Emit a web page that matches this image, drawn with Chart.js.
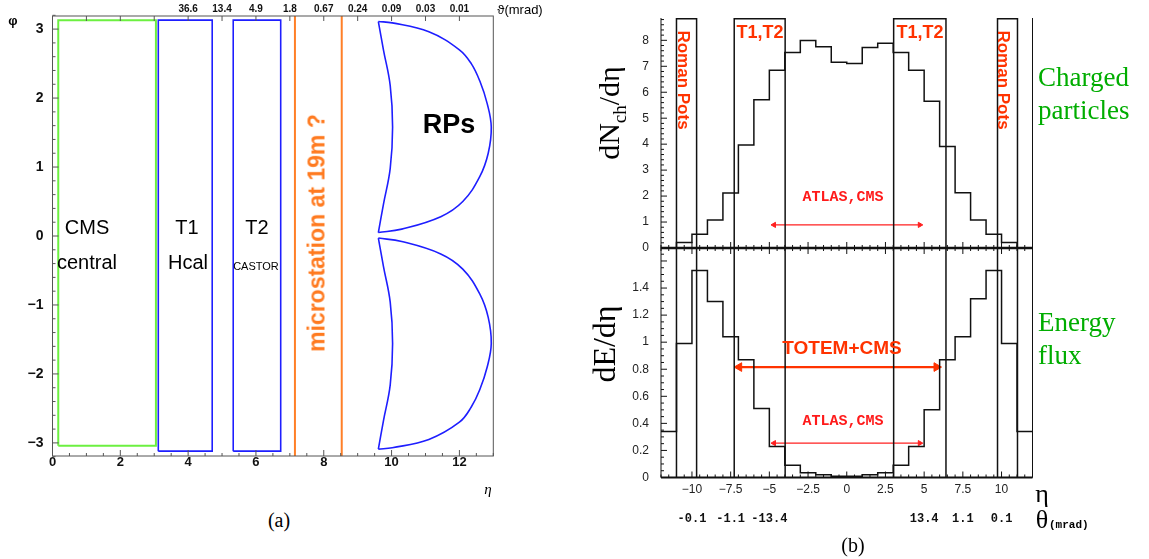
<!DOCTYPE html>
<html>
<head>
<meta charset="utf-8">
<script src="https://cdn.jsdelivr.net/npm/chart.js@4.4.1/dist/chart.umd.min.js"></script>
<style>
  html, body { margin: 0; padding: 0; background: #fff; }
  #fig { position: relative; width: 1149px; height: 559px; overflow: hidden; background: #fff; }
  #fig canvas { position: absolute; top: 0; }
  .t { position: absolute; white-space: nowrap; line-height: 1; transform: translate(-50%, -50%); }
  .l { transform: translate(0, -50%); }
  .up { transform: translate(-50%, -50%) rotate(-90deg); }
  .down { transform: translate(-50%, -50%) rotate(90deg); }
  .sans { font-family: "Liberation Sans", Arial, sans-serif; }
  .serif { font-family: "Liberation Serif", "Times New Roman", serif; }
  .mono { font-family: "Liberation Mono", "Courier New", monospace; font-weight: bold; }
  .red { color: #ff3300; font-weight: bold; }
  .green { color: #00ad00; }
</style>
</head>
<body>
<div id="fig">
  <canvas id="layout" width="560" height="500" style="left:0"></canvas>
  <canvas id="flow" width="589" height="559" style="left:560px"></canvas>

  <!-- (a) detector layout labels -->
  <div class="t sans" style="left:13px;top:20px;font-size:13px;font-weight:bold">φ</div>
  <div class="t sans" style="left:87px;top:227px;font-size:20px">CMS</div>
  <div class="t sans" style="left:87px;top:262px;font-size:20px">central</div>
  <div class="t sans" style="left:187px;top:227px;font-size:20px">T1</div>
  <div class="t sans" style="left:188px;top:262px;font-size:20px">Hcal</div>
  <div class="t sans" style="left:257px;top:227px;font-size:20px">T2</div>
  <div class="t sans" style="left:256px;top:266px;font-size:11px">CASTOR</div>
  <div class="t sans up" style="left:317px;top:233px;font-size:23px;font-weight:bold;color:#ff7a1f">microstation at 19m ?</div>
  <div class="t sans" style="left:449px;top:124px;font-size:27px;font-weight:bold">RPs</div>
  <div class="t serif" style="left:488px;top:489px;font-size:15px;font-style:italic">η</div>
  <div class="t sans" style="left:520px;top:9px;font-size:13px">ϑ(mrad)</div>
  <div class="t serif" style="left:279px;top:520px;font-size:20px">(a)</div>

  <!-- (b) pseudorapidity distributions labels -->
  <div class="t serif up" style="left:609px;top:113px;font-size:30px">dN<span style="font-size:19px;position:relative;top:7px">ch</span>/dη</div>
  <div class="t serif up" style="left:604px;top:344px;font-size:32px">dE/dη</div>
  <div class="t sans red down" style="left:683px;top:80px;font-size:17px">Roman Pots</div>
  <div class="t sans red down" style="left:1003px;top:80px;font-size:17px">Roman Pots</div>
  <div class="t sans red" style="left:760px;top:32px;font-size:18px">T1,T2</div>
  <div class="t sans red" style="left:920px;top:32px;font-size:18px">T1,T2</div>
  <div class="t mono" style="left:843px;top:197px;font-size:15px;color:#ff1a1a">ATLAS,CMS</div>
  <div class="t sans red" style="left:842px;top:347px;font-size:19px">TOTEM+CMS</div>
  <div class="t mono" style="left:843px;top:421px;font-size:15px;color:#ff1a1a">ATLAS,CMS</div>
  <div class="t serif green l" style="left:1038px;top:77px;font-size:27px">Charged</div>
  <div class="t serif green l" style="left:1038px;top:110px;font-size:27px">particles</div>
  <div class="t serif green l" style="left:1038px;top:322px;font-size:27px">Energy</div>
  <div class="t serif green l" style="left:1038px;top:355px;font-size:27px">flux</div>
  <div class="t serif" style="left:1042px;top:494px;font-size:26px">η</div>
  <div class="t serif" style="left:1042px;top:520px;font-size:26px">θ</div>
  <div class="t mono l" style="left:1049px;top:525px;font-size:11px">(mrad)</div>
  <div class="t serif" style="left:853px;top:545px;font-size:20px">(b)</div>
</div>

<script>
// ---- (a) detector coverage in the η-φ plane ----
const layoutEtaTicks = [0, 2, 4, 6, 8, 10, 12];
const layoutPhiTicks = [-3, -2, -1, 0, 1, 2, 3];
const thetaTopEta = [4, 5, 6, 7, 8, 9, 10, 11, 12];
const thetaTopText = ["36.6", "13.4", "4.9", "1.8", "0.67", "0.24", "0.09", "0.03", "0.01"];

const cmsCentral = [[0.17, -3.04], [0.17, 3.13], [3.05, 3.13], [3.05, -3.04]];
const t1Box = [[3.12, -3.12], [3.12, 3.13], [4.71, 3.13], [4.71, -3.12]];
const t2Box = [[5.33, -3.12], [5.33, 3.13], [6.73, 3.13], [6.73, -3.12]];
const microstationEta = [7.15, 8.53];

const rpUpperOuter = [[9.61, 3.11], [10.02, 3.09], [11.1, 2.96], [12.0, 2.7], [12.35, 2.5], [12.6, 2.25], [12.82, 1.92], [12.94, 1.58],
  [12.85, 1.2], [12.6, 0.86], [12.1, 0.5], [11.45, 0.28], [10.3, 0.1], [9.61, 0.05]];
const rpUpperInner = [[9.61, 0.05], [9.76, 0.46], [9.96, 0.98], [10.03, 1.58], [9.96, 2.18], [9.76, 2.7], [9.61, 3.11]];
const rpLowerOuter = [[9.61, -0.03], [10.3, -0.08], [11.45, -0.26], [12.1, -0.48], [12.6, -0.84], [12.85, -1.18], [12.94, -1.56],
  [12.82, -1.9], [12.6, -2.23], [12.35, -2.48], [12.0, -2.7], [11.1, -2.95], [10.02, -3.07], [9.61, -3.09]];
const rpLowerInner = [[9.61, -3.09], [9.76, -2.68], [9.96, -2.16], [10.03, -1.56], [9.96, -0.96], [9.76, -0.44], [9.61, -0.03]];

// ---- (b) dNch/dη and dE/dη ----
const etaEdges = [-12, -11, -10, -9, -8, -7, -6, -5, -4, -3, -2, -1, 0, 1, 2, 3, 4, 5, 6, 7, 8, 9, 10, 11, 12];
const dNchDeta = [0, 0.21, 0.53, 1.08, 2.12, 3.97, 5.71, 6.85, 7.53, 7.99, 7.75, 7.16, 7.11, 7.72, 7.89, 7.53, 6.85, 5.65, 3.91, 2.13, 1.08, 0.53, 0.21, 0];
const dEdeta = [0.34, 0.99, 1.53, 1.3, 1.04, 0.87, 0.51, 0.23, 0.09, 0.035, 0.02, 0.01, 0.01, 0.02, 0.035, 0.09, 0.23, 0.5, 0.87, 1.04, 1.32, 1.53, 0.99, 0.34];

// acceptance edges: Roman Pots, T1/T2, T1/T2, Roman Pots
const acceptanceEdges = [[-11.0, -9.7], [-7.27, -3.98], [3.03, 6.41], [9.74, 11.03]];
const boxTop = 8.83;

// arrows as [from η, to η, height]
const atlasArrowTop = [-4.7, 4.72, 0.89];
const totemArrow = [-6.95, 5.8, 0.816];
const atlasArrowBottom = [-4.7, 4.72, 0.254];

const etaTicks = [-10, -7.5, -5, -2.5, 0, 2.5, 5, 7.5, 10];
const thetaEta = [-10, -7.5, -5, 5, 7.5, 10];
const thetaText = ["-0.1", "-1.1", "-13.4", "13.4", "1.1", "0.1"];
const dNchTicks = [0, 1, 2, 3, 4, 5, 6, 7, 8];
const dETicks = [0, 0.2, 0.4, 0.6, 0.8, 1, 1.2, 1.4];

const pts = arr => arr.map(([x, y]) => ({ x, y }));
const closed = arr => pts(arr.concat([arr[0]]));
const noGrid = { display: false, drawTicks: false };
const noBorder = { display: false };
const fixTicks = values => scale => { scale.ticks = values.map(value => ({ value })); };
const minus = v => (v < 0 ? "\u2212" + Math.abs(v) : String(v));

function line(data, color, width, extra) {
  return Object.assign({ data, showLine: true, borderColor: color, borderWidth: width, pointRadius: 0, fill: false }, extra || {});
}

// inward tick marks on a horizontal or vertical axis line
function ticksAlong(ctx, scale, from, to, step, majorEvery, at, dir, majorLen, minorLen, horizontal) {
  const n = Math.round((to - from) / step);
  for (let i = 0; i <= n; i++) {
    const v = from + i * step;
    const p = scale.getPixelForValue(v);
    const major = Math.abs(v / majorEvery - Math.round(v / majorEvery)) < 1e-6;
    const len = major ? majorLen : minorLen;
    if (horizontal) { ctx.moveTo(p, at); ctx.lineTo(p, at + dir * len); }
    else { ctx.moveTo(at, p); ctx.lineTo(at + dir * len, p); }
  }
}

const layoutFrame = {
  id: "layoutFrame",
  afterDatasetsDraw(chart) {
    const { ctx, chartArea: a, scales: { x, y } } = chart;
    ctx.save();
    ctx.strokeStyle = "#555";
    ctx.lineWidth = 1;
    ctx.strokeRect(a.left, a.top, a.right - a.left, a.bottom - a.top);
    ctx.beginPath();
    ticksAlong(ctx, x, 0, 13, 0.5, 2, a.bottom, -1, 6, 3, true);
    ticksAlong(ctx, x, 1, 12, 1, 1, a.top, 1, 5, 5, true);
    ticksAlong(ctx, y, -3.2, 3.2, 0.2, 1, a.left, 1, 6, 3, false);
    ctx.stroke();
    ctx.restore();
  }
};

new Chart(document.getElementById("layout"), {
  type: "scatter",
  data: {
    datasets: [
      line(closed(cmsCentral), "#6cf040", 2),
      line(closed(t1Box), "#1e1eff", 1.6),
      line(closed(t2Box), "#1e1eff", 1.6),
      line(pts([[microstationEta[0], -3.19], [microstationEta[0], 3.19]]), "#ff7f27", 2),
      line(pts([[microstationEta[1], -3.19], [microstationEta[1], 3.19]]), "#ff7f27", 2),
      line(pts(rpUpperOuter), "#1e1eff", 1.6, { tension: 0.4 }),
      line(pts(rpUpperInner), "#1e1eff", 1.6, { tension: 0.4 }),
      line(pts(rpLowerOuter), "#1e1eff", 1.6, { tension: 0.4 }),
      line(pts(rpLowerInner), "#1e1eff", 1.6, { tension: 0.4 })
    ]
  },
  options: {
    responsive: false,
    animation: false,
    layout: { padding: { left: 0, top: 0, right: 66.7, bottom: 24 } },
    plugins: { legend: { display: false }, tooltip: { enabled: false } },
    scales: {
      x: {
        type: "linear", position: "bottom", min: 0, max: 13,
        afterFit: s => { s.height = 20; },
        afterBuildTicks: fixTicks(layoutEtaTicks),
        grid: noGrid, border: noBorder,
        ticks: { padding: 0, autoSkip: false, maxRotation: 0, color: "#111",
          font: { family: "Liberation Sans", size: 13, weight: "bold", lineHeight: 1 } }
      },
      xTop: {
        type: "linear", position: "top", min: 0, max: 13,
        afterFit: s => { s.height = 14; },
        afterBuildTicks: fixTicks(thetaTopEta),
        grid: noGrid, border: noBorder,
        ticks: { padding: 2, autoSkip: false, maxRotation: 0, color: "#111",
          callback: (v, i) => thetaTopText[i],
          font: { family: "Liberation Sans", size: 10, weight: "bold", lineHeight: 1 } }
      },
      y: {
        type: "linear", position: "left", min: -3.19, max: 3.19,
        afterFit: s => { s.width = 52.5; },
        afterBuildTicks: fixTicks(layoutPhiTicks),
        grid: noGrid, border: noBorder,
        ticks: { padding: 9, color: "#111", callback: minus,
          font: { family: "Liberation Sans", size: 14, weight: "bold", lineHeight: 1 } }
      }
    }
  },
  plugins: [layoutFrame]
});

// ---- (b) ----
function histogram(values) {
  const data = values.map((v, i) => ({ x: etaEdges[i], y: v }));
  data.push({ x: etaEdges[etaEdges.length - 1], y: values[values.length - 1] });
  return data;
}

function arrow([from, to, y], yAxisID, color, width, radius) {
  return line([{ x: from, y }, { x: to, y }], color, width, {
    yAxisID, pointStyle: "triangle", pointRadius: radius, pointRotation: [-90, 90],
    pointBackgroundColor: color, pointBorderColor: color, pointBorderWidth: 1
  });
}

const flowSets = [
  line(histogram(dNchDeta), "#111", 1.5, { yAxisID: "yTop", stepped: true }),
  line(histogram(dEdeta), "#111", 1.5, { yAxisID: "yBot", stepped: true })
];
acceptanceEdges.forEach(([a, b]) => {
  flowSets.push(line(pts([[a, 0], [a, boxTop], [b, boxTop], [b, 0]]), "#111", 1.5, { yAxisID: "yTop" }));
  flowSets.push(line(pts([[a, 0], [a, 1.7]]), "#111", 1.5, { yAxisID: "yBot" }));
  flowSets.push(line(pts([[b, 0], [b, 1.7]]), "#111", 1.5, { yAxisID: "yBot" }));
});
flowSets.push(arrow(atlasArrowTop, "yTop", "#ff2020", 1.2, 3));
flowSets.push(arrow(totemArrow, "yBot", "#ff3300", 2.2, 5));
flowSets.push(arrow(atlasArrowBottom, "yBot", "#ff2020", 1.2, 3));

const flowFrame = {
  id: "flowFrame",
  afterDatasetsDraw(chart) {
    const { ctx, chartArea: a, scales: { x, yTop, yBot } } = chart;
    const mid = yTop.getPixelForValue(0);
    ctx.save();
    ctx.strokeStyle = "#111";
    ctx.lineWidth = 1;
    ctx.beginPath();
    ctx.moveTo(a.left, a.top); ctx.lineTo(a.left, a.bottom);
    ctx.moveTo(a.right, a.top); ctx.lineTo(a.right, a.bottom);
    ticksAlong(ctx, x, -12, 12, 0.5, 2.5, a.bottom, -1, 6, 3, true);
    ticksAlong(ctx, x, -12, 12, 0.5, 2.5, mid, -1, 6, 3, true);
    ticksAlong(ctx, x, -12, 12, 0.5, 2.5, mid, 1, 6, 3, true);
    ticksAlong(ctx, yTop, 0, 8.8, 0.2, 1, a.left, 1, 6, 3, false);
    ticksAlong(ctx, yBot, 0, 1.65, 0.05, 0.2, a.left, 1, 6, 3, false);
    ctx.stroke();
    ctx.lineWidth = 2;
    ctx.beginPath();
    ctx.moveTo(a.left, a.bottom); ctx.lineTo(a.right, a.bottom);
    ctx.stroke();
    ctx.lineWidth = 2.5;
    ctx.beginPath();
    ctx.moveTo(a.left, mid); ctx.lineTo(a.right, mid);
    ctx.stroke();
    ctx.restore();
  }
};

const tickFont = { family: "Liberation Sans", size: 12, lineHeight: 1 };

new Chart(document.getElementById("flow"), {
  type: "scatter",
  data: { datasets: flowSets },
  options: {
    responsive: false,
    animation: false,
    layout: { padding: { left: 0, top: 2, right: 116.5, bottom: 29.5 } },
    plugins: { legend: { display: false }, tooltip: { enabled: false } },
    scales: {
      x: {
        type: "linear", position: "bottom", weight: 0, min: -12, max: 12,
        afterFit: s => { s.height = 26; },
        afterBuildTicks: fixTicks(etaTicks),
        grid: noGrid, border: noBorder,
        ticks: { padding: 6.5, autoSkip: false, maxRotation: 0, color: "#222", callback: minus, font: tickFont }
      },
      xTheta: {
        type: "linear", position: "bottom", weight: 1, min: -12, max: 12,
        afterFit: s => { s.height = 26; },
        afterBuildTicks: fixTicks(thetaEta),
        grid: noGrid, border: noBorder,
        ticks: { padding: 9, autoSkip: false, maxRotation: 0, color: "#111",
          callback: (v, i) => thetaText[i],
          font: { family: "Liberation Mono", size: 12, weight: "bold", lineHeight: 1 } }
      },
      yTop: {
        type: "linear", position: "left", stack: "panels", stackWeight: 238, weight: 2, min: 0, max: 8.86,
        afterFit: s => { s.width = 101; },
        afterBuildTicks: fixTicks(dNchTicks),
        grid: noGrid, border: noBorder,
        ticks: { padding: 12, color: "#222", font: tickFont }
      },
      yBot: {
        type: "linear", position: "left", stack: "panels", stackWeight: 237.5, weight: 1, min: 0, max: 1.696,
        afterFit: s => { s.width = 101; },
        afterBuildTicks: fixTicks(dETicks),
        grid: noGrid, border: noBorder,
        ticks: { padding: 12, color: "#222", font: tickFont, callback: v => String(v) }
      }
    }
  },
  plugins: [flowFrame]
});
</script>
</body>
</html>
